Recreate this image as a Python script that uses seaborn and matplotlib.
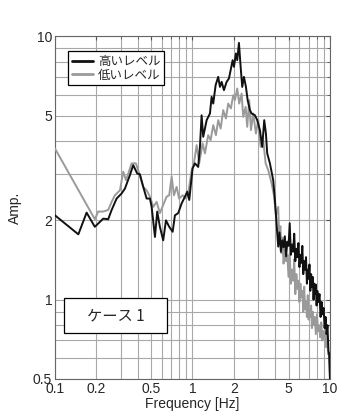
import matplotlib
matplotlib.use('Agg')
import matplotlib.pyplot as plt
import matplotlib.patches as mpatches
import seaborn as sns
import pandas as pd

# 高いレベル（黒）: 周波数 [Hz] と振幅
freq_high = [0.100, 0.148, 0.170, 0.195, 0.2245, 0.244, 0.2585, 0.281, 0.3055, 0.323,
             0.351, 0.371, 0.397, 0.415, 0.4387, 0.4644, 0.491, 0.505, 0.534, 0.5546,
             0.580, 0.613, 0.642, 0.678, 0.718, 0.746, 0.788, 0.835, 0.882, 0.917,
             0.948, 1.003, 1.043, 1.102, 1.134, 1.166, 1.198, 1.269, 1.341, 1.379,
             1.417, 1.475, 1.540, 1.585, 1.631, 1.695, 1.773, 1.843, 1.896, 1.961,
             2.004, 2.072, 2.118, 2.179, 2.242, 2.303, 2.369, 2.450, 2.521, 2.619,
             2.695, 2.848, 2.960, 3.097, 3.218, 3.328, 3.424, 3.499, 3.661, 3.869,
             3.981, 4.097, 4.207, 4.30, 4.40, 4.50, 4.60, 4.70, 4.80, 4.90,
             5.00, 5.10, 5.20, 5.30, 5.40, 5.50, 5.60, 5.70, 5.80, 5.90,
             6.00, 6.10, 6.20, 6.30, 6.40, 6.50, 6.60, 6.70, 6.80, 6.90,
             7.00, 7.10, 7.20, 7.30, 7.40, 7.50, 7.60, 7.70, 7.80, 7.90,
             8.00, 8.10, 8.25, 8.40, 8.55, 8.70, 8.85, 9.00, 9.15, 9.30,
             9.45, 9.60, 9.75, 9.88, 10.0]
amp_high = [2.09, 1.77, 2.14, 1.89, 2.03, 2.02, 2.19, 2.42, 2.53, 2.64,
            2.97, 3.24, 3.01, 2.99, 2.68, 2.42, 2.42, 2.25, 1.73, 2.16,
            1.89, 1.68, 2.00, 1.89, 1.81, 2.09, 2.13, 2.32, 2.46, 2.57,
            2.39, 3.15, 3.29, 3.19, 3.80, 5.01, 4.15, 4.80, 5.09, 5.89,
            5.55, 6.52, 7.01, 6.42, 6.71, 6.24, 6.71, 6.91, 7.43, 8.11,
            7.65, 8.60, 8.11, 9.43, 7.65, 6.42, 7.01, 6.42, 5.72, 5.24,
            5.09, 5.01, 4.80, 4.40, 3.80, 4.80, 4.27, 3.59, 3.29, 2.84,
            2.39, 1.92, 1.59, 1.80, 1.52, 1.68, 1.58, 1.74, 1.46, 1.66,
            1.60, 1.95, 1.48, 1.62, 1.52, 1.78, 1.40, 1.56, 1.45, 1.64,
            1.33, 1.48, 1.38, 1.60, 1.25, 1.40, 1.30, 1.45, 1.15, 1.30,
            1.20, 1.36, 1.08, 1.25, 1.12, 1.22, 1.00, 1.15, 1.05, 1.14,
            0.95, 1.08, 0.98, 1.05, 0.86, 0.98, 0.88, 0.93, 0.78, 0.86,
            0.74, 0.80, 0.64, 0.62, 0.50]

# 低いレベル（灰）
freq_low = [0.100, 0.195, 0.2065, 0.2245, 0.244, 0.2585, 0.273, 0.297, 0.314, 0.3285,
            0.3413, 0.3613, 0.3882, 0.4104, 0.4387, 0.4644, 0.491, 0.5187, 0.549, 0.580,
            0.613, 0.649, 0.678, 0.706, 0.734, 0.767, 0.800, 0.849, 0.897, 0.932,
            0.987, 1.025, 1.073, 1.121, 1.186, 1.233, 1.302, 1.356, 1.417, 1.482,
            1.540, 1.604, 1.675, 1.752, 1.821, 1.905, 1.981, 2.038, 2.118, 2.190,
            2.279, 2.341, 2.437, 2.503, 2.589, 2.664, 2.769, 2.896, 3.010, 3.133,
            3.273, 3.407, 3.559, 3.767, 3.915, 4.049, 4.207, 4.28, 4.36, 4.45,
            4.52, 4.60, 4.70, 4.80, 4.90, 5.00, 5.10, 5.20, 5.30, 5.40,
            5.50, 5.60, 5.70, 5.80, 5.90, 6.00, 6.10, 6.20, 6.30, 6.40,
            6.50, 6.60, 6.70, 6.80, 6.90, 7.00, 7.10, 7.20, 7.30, 7.40,
            7.50, 7.60, 7.75, 7.90, 8.05, 8.20, 8.35, 8.50, 8.65, 8.80,
            8.95, 9.10, 9.25, 9.40, 9.55, 9.70, 9.85, 10.0]
amp_low = [3.75, 2.02, 2.16, 2.16, 2.19, 2.35, 2.49, 2.60, 3.06, 2.84,
           3.01, 3.29, 3.29, 3.01, 2.68, 2.60, 2.46, 2.25, 2.35, 2.13,
           2.29, 2.46, 2.49, 2.93, 2.49, 2.68, 2.42, 2.49, 2.42, 2.53,
           3.10, 3.29, 3.86, 3.30, 3.92, 3.59, 4.21, 4.03, 4.60, 4.21,
           4.80, 4.46, 5.24, 4.87, 5.55, 5.32, 5.97, 5.72, 6.33, 5.55,
           6.06, 4.94, 5.39, 4.53, 5.72, 4.40, 5.09, 4.27, 4.80, 3.80,
           4.03, 3.29, 3.10, 2.76, 2.49, 2.09, 2.25, 1.68, 1.90, 1.50,
           1.72, 1.37, 1.55, 1.40, 1.48, 1.22, 1.50, 1.15, 1.30, 1.18,
           1.42, 1.05, 1.25, 1.10, 1.18, 0.98, 1.15, 1.02, 1.08, 0.90,
           1.12, 0.92, 0.98, 0.86, 1.04, 0.84, 0.92, 0.86, 0.95, 0.78,
           0.90, 0.80, 0.86, 0.74, 0.88, 0.76, 0.80, 0.72, 0.82, 0.70,
           0.76, 0.71, 0.74, 0.66, 0.73, 0.62, 0.63, 0.52]

labels = ['高いレベル', '低いレベル']
x_ticks = [0.1, 0.2, 0.5, 1, 2, 5, 10]
x_ticklabels = ['0.1', '0.2', '0.5', '1', '2', '5', '10']
y_ticks = [0.5, 1, 2, 5, 10]
y_ticklabels = ['0.5', '1', '2', '5', '10']
case_text = 'ケース 1'

sns.set_style('white')
plt.rcParams['font.family'] = ['Liberation Sans', 'Noto Sans CJK JP', 'DejaVu Sans']
plt.rcParams['axes.unicode_minus'] = False

df_high = pd.DataFrame({'freq': freq_high, 'amp': amp_high})
df_low = pd.DataFrame({'freq': freq_low, 'amp': amp_low})

fig = plt.figure(figsize=(3.37, 4.16), dpi=100)
ax = fig.add_axes([0.163, 0.089, 0.816, 0.824])

sns.lineplot(data=df_low, x='freq', y='amp', color='#9a9a9a', lw=1.4,
             estimator=None, sort=False, ax=ax, label=labels[1], zorder=3)
sns.lineplot(data=df_high, x='freq', y='amp', color='#111111', lw=1.4,
             estimator=None, sort=False, ax=ax, label=labels[0], zorder=4)

ax.set_xscale('log')
ax.set_yscale('log')
ax.set_xlim(0.1, 10)
ax.set_ylim(0.5, 10)
ax.set_xticks(x_ticks)
ax.set_xticklabels(x_ticklabels)
ax.set_yticks(y_ticks)
ax.set_yticklabels(y_ticklabels)
ax.grid(True, which='both', color='#a8a8a8', lw=0.8)
ax.tick_params(which='both', direction='in', top=True, right=True,
               labelsize=10, length=3, color='#555555', pad=2)
ax.tick_params(which='minor', length=2)
for s in ax.spines.values():
    s.set_color('#666666')
    s.set_linewidth(0.8)

ax.set_xlabel('Frequency [Hz]', fontsize=10, labelpad=1)
ax.set_ylabel('Amp.', fontsize=10, labelpad=8)

# 凡例（黒を先に）
h, l = ax.get_legend_handles_labels()
leg = ax.legend(h[::-1], l[::-1], loc='upper left', bbox_to_anchor=(0.047, 0.956),
                borderaxespad=0, fancybox=False, edgecolor='black', framealpha=1,
                prop={'family': 'Noto Sans CJK JP', 'size': 9}, handlelength=1.7,
                handletextpad=0.4, borderpad=0.3, labelspacing=0.05)
leg.get_frame().set_linewidth(0.9)
for line in leg.get_lines():
    line.set_linewidth(2)

# ケース表示
ax.add_patch(mpatches.Rectangle((0.033, 0.134), 0.375, 0.102, transform=ax.transAxes,
                                facecolor='white', edgecolor='black', lw=0.9, zorder=5))
ax.text(0.22, 0.185, case_text, transform=ax.transAxes, ha='center', va='center',
        fontsize=11, family=['Noto Sans CJK JP', 'DejaVu Sans'], zorder=6)

fig.savefig('out.png', dpi=100)
